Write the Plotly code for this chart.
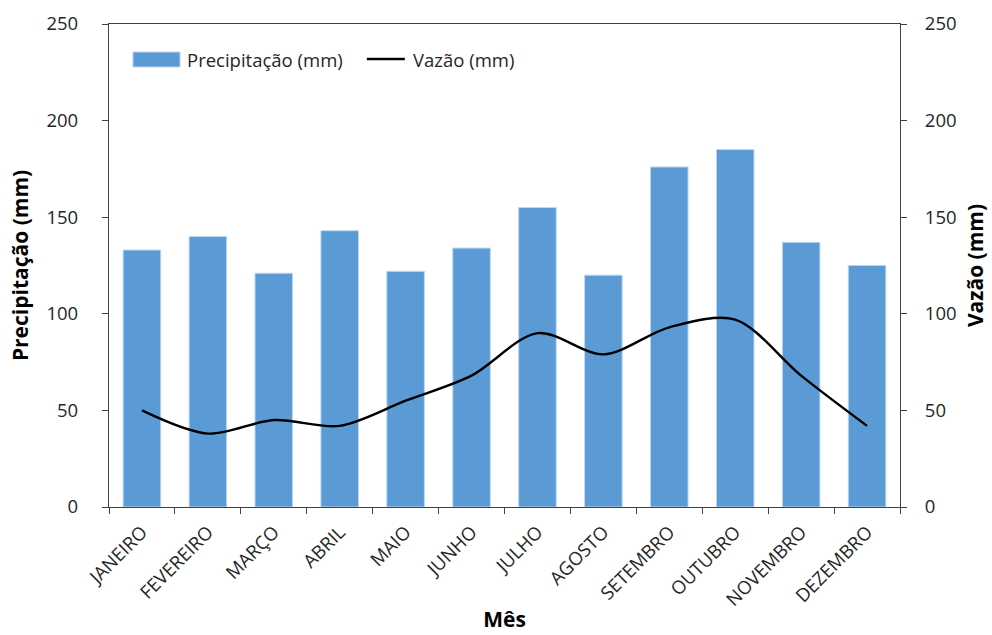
import plotly.graph_objects as go

meses = ["JANEIRO", "FEVEREIRO", "MARÇO", "ABRIL", "MAIO", "JUNHO",
         "JULHO", "AGOSTO", "SETEMBRO", "OUTUBRO", "NOVEMBRO", "DEZEMBRO"]
precipitacao = [133, 140, 121, 143, 122, 134, 155, 120, 176, 185, 137, 125]
vazao = [50, 38, 45, 42, 55, 68, 90, 79, 93, 97, 68, 42]

FONT = "Open Sans"
AXIS_COLOR = "#404040"
BAR_COLOR = "#5B9BD5"

fig = go.Figure()
fig.add_trace(go.Bar(
    x=meses, y=precipitacao, name="Precipitação (mm)",
    marker=dict(color=BAR_COLOR, line=dict(color="#BDD7EE", width=1)),
    yaxis="y",
))
fig.add_trace(go.Scatter(
    x=meses, y=vazao, name="Vazão (mm)", mode="lines",
    line=dict(color="black", width=2.4, shape="spline", smoothing=0.9),
    yaxis="y2",
))

tick_font = dict(family=FONT, size=18.5, color="#262626")
title_font = dict(family=FONT, size=21, color="black")

# legend drawn in paper coordinates: wide bar swatch + line swatch
legend_shapes = [
    dict(type="rect", xref="paper", yref="paper",
         x0=0.0303, x1=0.0898, y0=0.911, y1=0.942,
         fillcolor=BAR_COLOR, line=dict(color="#BDD7EE", width=1)),
    dict(type="line", xref="paper", yref="paper",
         x0=0.326, x1=0.374, y0=0.9275, y1=0.9275,
         line=dict(color="black", width=2.4)),
]
legend_texts = [
    dict(text="Precipitação (mm)", x=0.096, y=0.9275),
    dict(text="Vazão (mm)", x=0.382, y=0.9275),
]

fig.update_layout(
    width=992, height=635,
    margin=dict(l=109, r=92, t=24, b=128),
    plot_bgcolor="white", paper_bgcolor="white",
    bargap=0.43,
    showlegend=False,
    shapes=legend_shapes,
    annotations=[dict(text=t["text"], x=t["x"], y=t["y"], xref="paper", yref="paper",
                      xanchor="left", yanchor="middle", showarrow=False,
                      font=dict(family=FONT, size=18.5, color="#262626"))
                 for t in legend_texts],
    xaxis=dict(
        title=dict(text="<b>Mês</b>", font=title_font, standoff=2),
        tickangle=-45, tickfont=tick_font, ticklabelstandoff=6, automargin=False,
        showline=True, linecolor=AXIS_COLOR, linewidth=1.3, mirror=True,
        ticks="outside", ticklen=6, tickcolor=AXIS_COLOR, tickson="boundaries",
        showgrid=False,
    ),
    yaxis=dict(
        title=dict(text="<b>Precipitação (mm)</b>", font=title_font, standoff=12),
        range=[0, 250], dtick=50, tickfont=tick_font, ticklabelstandoff=20,
        automargin=False,
        showline=True, linecolor=AXIS_COLOR, linewidth=1.3,
        ticks="outside", ticklen=6, tickcolor=AXIS_COLOR,
        showgrid=False, zeroline=False,
    ),
    yaxis2=dict(
        title=dict(text="<b>Vazão (mm)</b>", font=title_font, standoff=12),
        range=[0, 250], dtick=50, tickfont=tick_font, ticklabelstandoff=14,
        automargin=False,
        overlaying="y", side="right",
        showline=True, linecolor=AXIS_COLOR, linewidth=1.3,
        ticks="outside", ticklen=6, tickcolor=AXIS_COLOR,
        showgrid=False, zeroline=False,
    ),
)

fig.write_html("out.html")
